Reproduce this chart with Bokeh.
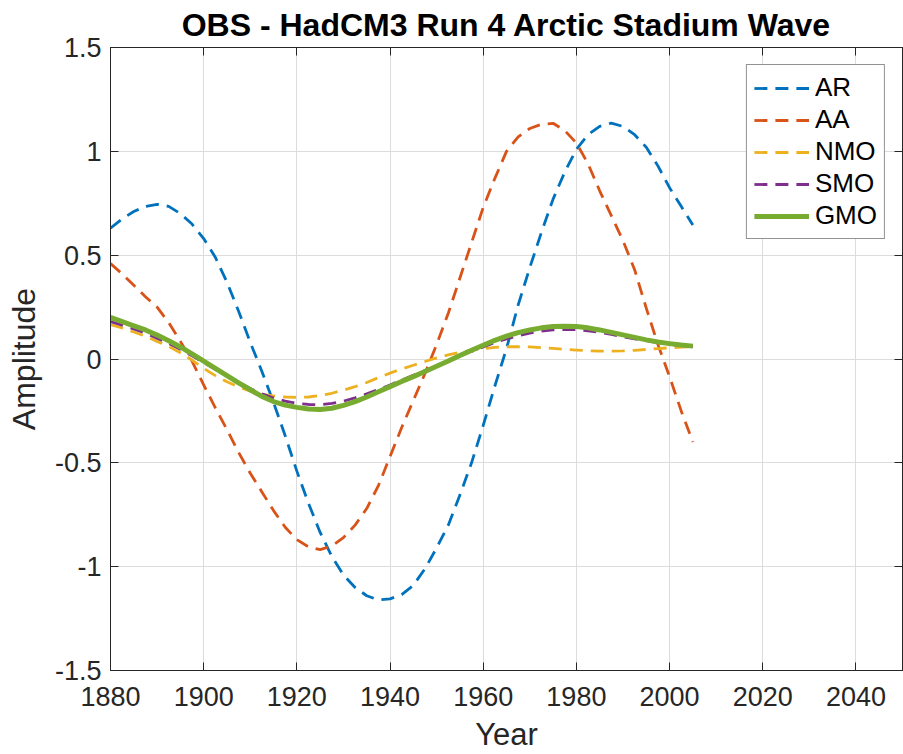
from bokeh.plotting import figure
from bokeh.models import (ColumnDataSource, FixedTicker, LinearAxis, Legend,
                          LegendItem, Range1d)
from bokeh.embed import file_html
from bokeh.resources import INLINE

# Stadium-wave index series (amplitude), sampled every 2.5 years, 1880-2005
years = [1880, 1882.5, 1885, 1887.5, 1890, 1892.5, 1895, 1897.5, 1900,
         1902.5, 1905, 1907.5, 1910, 1912.5, 1915, 1917.5, 1920, 1922.5, 1925,
         1927.5, 1930, 1932.5, 1935, 1937.5, 1940, 1942.5, 1945, 1947.5, 1950,
         1952.5, 1955, 1957.5, 1960, 1962.5, 1965, 1967.5, 1970, 1972.5, 1975,
         1977.5, 1980, 1982.5, 1985, 1987.5, 1990, 1992.5, 1995, 1997.5, 2000,
         2002.5, 2005]
ar = [0.63, 0.675, 0.71, 0.735, 0.745, 0.735, 0.70, 0.65, 0.58,
      0.49, 0.37, 0.23, 0.08, -0.06, -0.21, -0.37, -0.54, -0.695, -0.835,
      -0.95, -1.04, -1.10, -1.14, -1.16, -1.155, -1.135, -1.09, -1.01, -0.91,
      -0.80, -0.655, -0.50, -0.32, -0.13, 0.05, 0.26, 0.44, 0.61, 0.77,
      0.90, 1.01, 1.08, 1.12, 1.136, 1.12, 1.08, 1.02, 0.93, 0.825,
      0.735, 0.645]
aa = [0.46, 0.41, 0.355, 0.30, 0.25, 0.175, 0.085, -0.01, -0.125,
      -0.235, -0.34, -0.45, -0.55, -0.64, -0.73, -0.81, -0.87, -0.905, -0.918,
      -0.90, -0.86, -0.80, -0.72, -0.61, -0.47, -0.33, -0.20, -0.07, 0.07,
      0.22, 0.39, 0.56, 0.73, 0.87, 1.00, 1.07, 1.11, 1.13, 1.135,
      1.10, 1.04, 0.94, 0.81, 0.69, 0.57, 0.43, 0.245, 0.07, -0.085,
      -0.25, -0.40]
nmo = [0.165, 0.15, 0.13, 0.11, 0.085, 0.06, 0.03, -0.005, -0.045,
       -0.08, -0.11, -0.135, -0.155, -0.17, -0.178, -0.183, -0.185, -0.183, -0.176,
       -0.165, -0.15, -0.133, -0.113, -0.09, -0.068, -0.048, -0.03, -0.012, 0.005,
       0.02, 0.032, 0.042, 0.05, 0.056, 0.059, 0.059, 0.058, 0.055, 0.051,
       0.047, 0.043, 0.04, 0.038, 0.038, 0.039, 0.042, 0.046, 0.05, 0.054,
       0.057, 0.059]
smo = [0.18, 0.163, 0.145, 0.125, 0.10, 0.075, 0.047, 0.015, -0.017,
       -0.05, -0.083, -0.113, -0.142, -0.168, -0.188, -0.203, -0.213, -0.219, -0.22,
       -0.214, -0.203, -0.187, -0.168, -0.147, -0.125, -0.102, -0.079, -0.056, -0.033,
       -0.01, 0.014, 0.037, 0.058, 0.079, 0.097, 0.112, 0.125, 0.134, 0.14,
       0.142, 0.141, 0.136, 0.128, 0.118, 0.107, 0.097, 0.088, 0.079, 0.072,
       0.065, 0.06]
gmo = [0.20, 0.18, 0.16, 0.14, 0.115, 0.088, 0.058, 0.025, -0.01,
       -0.045, -0.08, -0.115, -0.148, -0.18, -0.205, -0.222, -0.233, -0.241, -0.243,
       -0.237, -0.223, -0.205, -0.183, -0.158, -0.133, -0.108, -0.085, -0.06, -0.035,
       -0.01, 0.017, 0.042, 0.066, 0.09, 0.11, 0.127, 0.14, 0.15, 0.156,
       0.158, 0.156, 0.15, 0.14, 0.128, 0.116, 0.104, 0.092, 0.082, 0.074,
       0.067, 0.062]

series_names = ["AR", "AA", "NMO", "SMO", "GMO"]
x_ticks = [1880, 1900, 1920, 1940, 1960, 1980, 2000, 2020, 2040]
y_ticks = [-1.5, -1.0, -0.5, 0.0, 0.5, 1.0, 1.5]
y_tick_labels = ["-1.5", "-1", "-0.5", "0", "0.5", "1", "1.5"]

FONT = "Liberation Sans"
INK = "#262626"

source = ColumnDataSource(dict(year=years, AR=ar, AA=aa, NMO=nmo, SMO=smo, GMO=gmo))

p = figure(width=903, height=754, output_backend="svg", toolbar_location=None,
           x_range=Range1d(1880, 2050), y_range=Range1d(-1.5, 1.5),
           min_border_left=110, min_border_right=1, min_border_top=47,
           min_border_bottom=83)

p.title.text = "OBS - HadCM3 Run 4 Arctic Stadium Wave"
p.title.text_font = FONT
p.title.text_font_style = "bold"
p.title.text_font_size = "32px"
p.title.align = "center"
p.title.text_color = "#000000"
p.title.standoff = 9
p.title.offset = 0

p.background_fill_color = "white"
p.border_fill_color = "white"
p.outline_line_color = INK
p.outline_line_width = 1

# grid
p.xgrid.ticker = FixedTicker(ticks=x_ticks)
p.ygrid.ticker = FixedTicker(ticks=y_ticks)
for g in (p.xgrid, p.ygrid):
    g.grid_line_color = "#dcdcdc"
    g.grid_line_width = 1

def style_axis(ax):
    ax.axis_line_color = INK
    ax.major_tick_line_color = INK
    ax.major_tick_in = 8
    ax.major_tick_out = 0
    ax.minor_tick_line_color = None
    ax.major_label_text_font = FONT
    ax.major_label_text_color = INK
    ax.major_label_text_font_size = "27px"
    ax.axis_label_text_font = FONT
    ax.axis_label_text_color = INK
    ax.axis_label_text_font_style = "normal"

xa = p.xaxis[0]
xa.ticker = FixedTicker(ticks=x_ticks)
xa.axis_label = "Year"
xa.axis_label_text_font_size = "31px"
xa.major_label_standoff = 16
xa.axis_label_standoff = 8
style_axis(xa)

ya = p.yaxis[0]
ya.ticker = FixedTicker(ticks=y_ticks)
ya.major_label_overrides = {t: s for t, s in zip(y_ticks, y_tick_labels)}
ya.axis_label = "Amplitude"
ya.axis_label_text_font_size = "32px"
ya.major_label_standoff = 9
ya.axis_label_standoff = 10
style_axis(ya)

# tick marks on the top and right edges of the box (no labels there)
top = LinearAxis(ticker=FixedTicker(ticks=x_ticks),
                 major_label_overrides={t: "" for t in x_ticks})
style_axis(top)
top.major_label_standoff = 0
p.add_layout(top, "above")
right = LinearAxis(ticker=FixedTicker(ticks=y_ticks),
                   major_label_overrides={t: "" for t in y_ticks})
style_axis(right)
right.major_label_standoff = 0
p.add_layout(right, "right")

colors = {"AR": "#0072BD", "AA": "#D95319", "NMO": "#EDB120",
          "SMO": "#7E2F8E", "GMO": "#77AC30"}

renderers = []
for name in series_names:
    if name == "GMO":
        r = p.line("year", name, source=source, line_color=colors[name],
                   line_width=5, line_join="round")
    else:
        r = p.line("year", name, source=source, line_color=colors[name],
                   line_width=2.8, line_dash="13 8", line_join="round")
    renderers.append(r)

legend = Legend(items=[LegendItem(label=n, renderers=[r])
                       for n, r in zip(series_names, renderers)],
                location="top_right", margin=17)
legend.label_text_font = FONT
legend.label_text_font_size = "26px"
legend.label_text_color = "#000000"
legend.glyph_width = 55
legend.glyph_height = 30
legend.label_height = 30
legend.label_standoff = 6
legend.spacing = 1
legend.padding = 7
legend.border_line_color = INK
legend.border_line_width = 1
legend.background_fill_color = "white"
legend.background_fill_alpha = 1
p.add_layout(legend, "center")

open("out.html", "w").write(file_html(p, INLINE))
